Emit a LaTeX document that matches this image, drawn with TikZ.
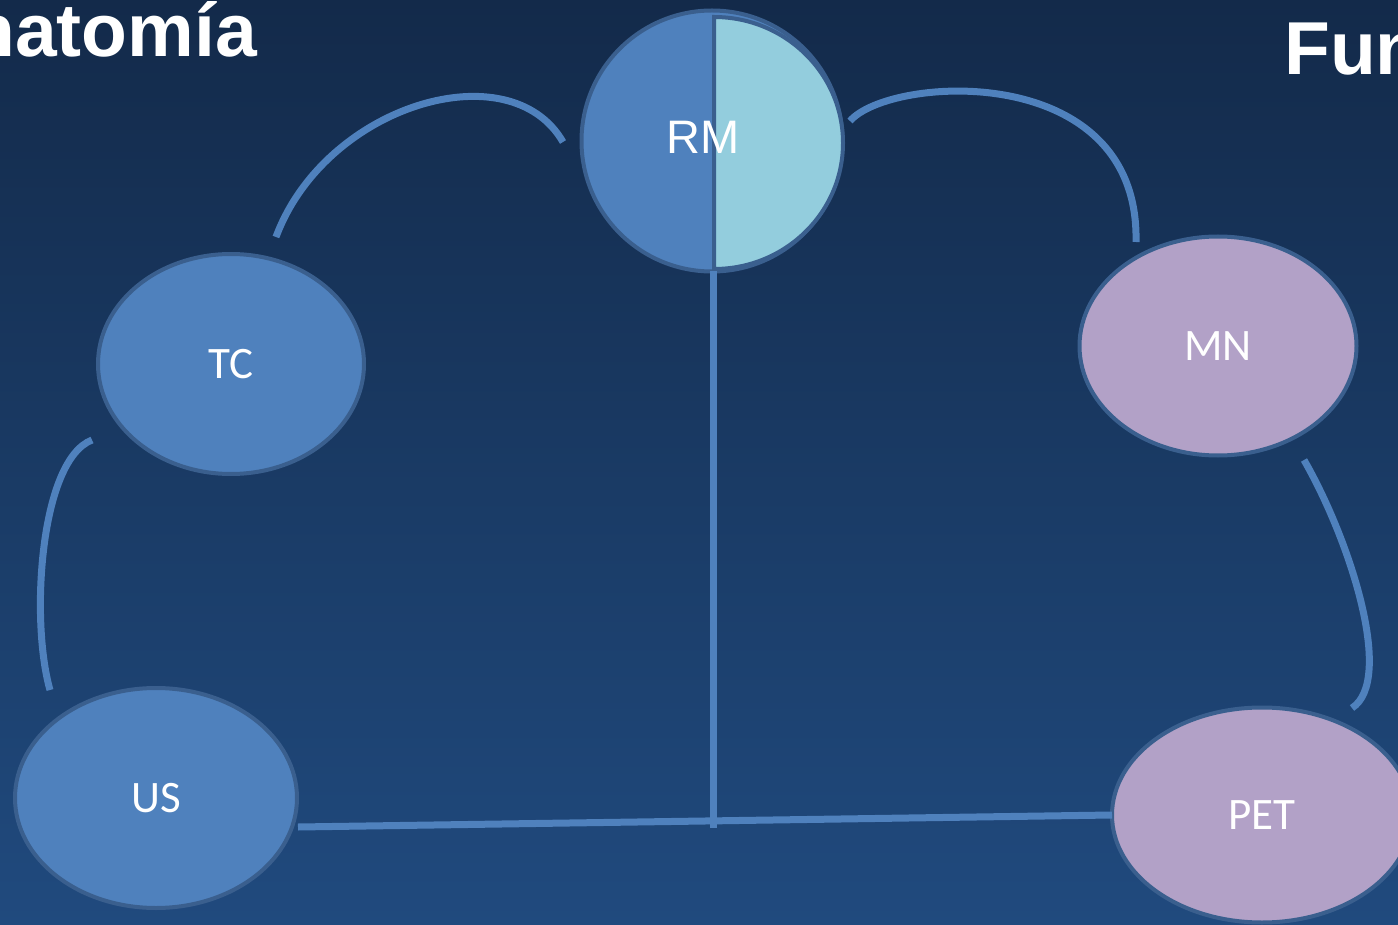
\documentclass[tikz,border=0pt]{standalone}
\usepackage{fontspec}
\setmainfont{Carlito}
\newfontfamily\arialf{Liberation Sans}
\usetikzlibrary{shapes.geometric}
\definecolor{bgtop}{HTML}{132A4A}
\definecolor{bgbot}{HTML}{204A7E}
\definecolor{acc}{HTML}{4F81BD}
\definecolor{bord}{HTML}{3A5F8E}
\definecolor{lightb}{HTML}{93CDDD}
\definecolor{lil}{HTML}{B2A1C7}
\tikzset{
  blob/.style={ellipse, draw=bord, line width=4pt, inner sep=0pt, text=white, font=\fontsize{45}{50}\selectfont},
  bluebl/.style={blob, fill=acc},
  lilbl/.style={blob, fill=lil},
  conn/.style={draw=acc, line width=7pt},
  titlef/.style={text=white, inner sep=0pt, font=\arialf\bfseries\fontsize{75}{80}\selectfont}
}
\begin{document}
\begin{tikzpicture}[x=1pt,y=-1pt]
\useasboundingbox (0,0) rectangle (1398,925);
\clip (0,0) rectangle (1398,925);
\fill[top color=bgtop, bottom color=bgbot] (0,0) rectangle (1398,925);
% titles
\node[titlef, anchor=base east] (t1) at (257,57) {Anatomía};
\node[titlef, anchor=base west] (t2) at (1284,75) {Fun};
% RM
\node[circle, draw=bord, fill=acc, line width=4pt, minimum size=261pt, inner sep=0pt] (rm) at (712,141) {};
\fill[lightb, draw=bord, line width=4pt] ([shift={(2,-124)}]rm.center) arc[start angle=-90, end angle=90, x radius=129, y radius=126] -- cycle;
\node[text=white, inner sep=0pt, font=\arialf\fontsize{47}{50}\selectfont] (rml) at (703,137) {RM};
% other nodes
\node[bluebl, minimum width=266pt, minimum height=220pt] (tc) at (231,364) {TC};
\node[bluebl, minimum width=282pt, minimum height=220pt] (us) at (156,798) {US};
\node[lilbl, minimum width=277pt, minimum height=219pt] (mn) at (1218,346) {MN};
\node[lilbl, minimum width=300pt, minimum height=215pt] (pet) at (1262,815) {PET};
% connector ends
\coordinate (a1) at (276,237);
\coordinate (a2) at (563,142);
\coordinate (b1) at (850,121);
\coordinate (b2) at (1136,242);
\coordinate (c1) at (92,440);
\coordinate (c2) at (50,690);
\coordinate (d1) at (1304,460);
\coordinate (d2) at (1352,708);
\coordinate (e1) at (298,827);
\coordinate (e2) at (1112,815);
\coordinate (f1) at (713,271);
\coordinate (f2) at (713,828);
% connectors
\draw[conn] (a1) .. controls (325,105) and (510,50) .. (a2);
\draw[conn] (b1) .. controls (890,75) and (1140,60) .. (b2);
\draw[conn] (c1) .. controls (40,460) and (30,620) .. (c2);
\draw[conn] (d1) .. controls (1350,540) and (1395,680) .. (d2);
\draw[conn] (e1) -- (e2);
\draw[conn] (f1) -- (f2);
\end{tikzpicture}
\end{document}
